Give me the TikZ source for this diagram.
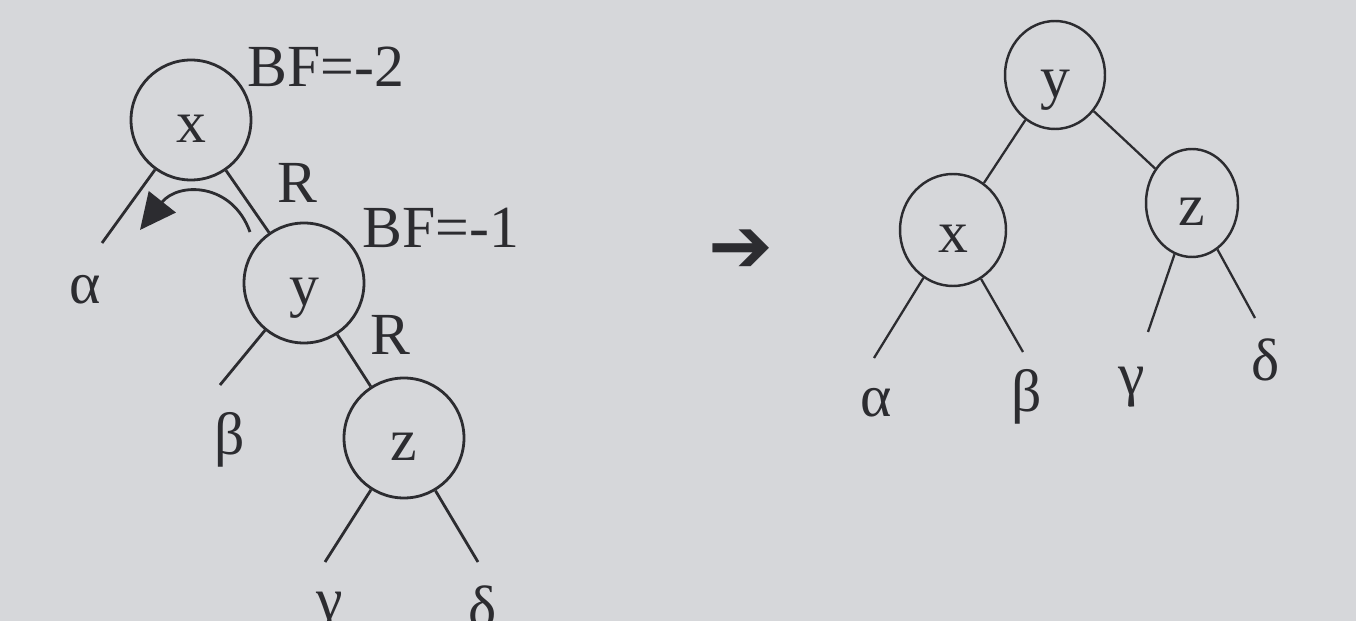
\documentclass[tikz,border=0pt]{standalone}
\usepackage{fontspec}
\setmainfont{Liberation Serif}
\newfontfamily\arrowfont{DejaVu Sans}
\usetikzlibrary{arrows.meta,shapes.geometric}
\definecolor{paper}{RGB}{214,215,218}
\definecolor{ink}{RGB}{44,44,48}

\begin{document}
\begin{tikzpicture}[node distance=3.1cm,
  every node/.style={text=ink,font=\fontsize{34}{40}\selectfont},
  knot/.style={circle,draw=ink,line width=1.6pt,minimum size=2.4cm,inner sep=0pt,text height=0.9cm,text depth=0cm},
  oval/.style={ellipse,draw=ink,line width=1.4pt,minimum width=2cm,minimum height=2.16cm,inner sep=0pt,text height=0.9cm,text depth=0cm},
  stem/.style={draw=ink,line width=1.6pt},
  thin stem/.style={draw=ink,line width=1.3pt}]
  \fill[paper] (0,0) rectangle (27.12,-12.42);
  \useasboundingbox (0,0) rectangle (27.12,-12.42);

  % before the rotation
  \node [knot] (x1) at (3.82,-2.40) {x};
  \node [knot,below of=x1,xshift=2.26cm,yshift=-0.16cm] (y1) {y};
  \node [knot,below of=y1,xshift=2cm] (z1) {z};
  \node (bf1) at (6.52,-1.34) {BF=-2};
  \node (bf2) at (8.82,-4.56) {BF=-1};
  \node (r1) at (5.94,-3.66) {R};
  \node (r2) at (7.80,-6.70) {R};

  \coordinate (ea1) at (2.04,-4.86);
  \coordinate (eb1) at (4.40,-7.70);
  \coordinate (ec1) at (6.50,-11.24);
  \coordinate (ed1) at (9.56,-11.24);
  \node (a1) at (1.70,-5.80) {α};
  \node (b1) at (4.60,-8.80) {β};
  \node (c1) at (6.60,-12.24) {γ};
  \node (d1) at (9.66,-12.14) {δ};

  \path[stem] (x1) edge (y1);
  \path[stem] (y1) edge (z1);
  \path[stem] (x1) edge (ea1);
  \path[stem] (y1) edge (eb1);
  \path[stem] (z1) edge (ec1);
  \path[stem] (z1) edge (ed1);

  \coordinate (rs) at (5.00,-4.64);
  \coordinate (re) at (2.80,-4.60);
  \draw[stem,-{Triangle[length=0.72cm,width=0.68cm]}] (rs) .. controls (4.64,-3.64) and (3.56,-3.64) .. (re);

  \node (arr) at (14.82,-5.02) {\arrowfont\fontsize{44}{50}\selectfont ➔};

  % after the rotation
  \node [oval] (y2) at (21.10,-1.50) {y};
  \node [oval,minimum width=2.12cm,minimum height=2.24cm,below of=y2,xshift=-2.04cm] (x2) {x};
  \node [oval,minimum width=1.84cm,below of=y2,xshift=2.74cm,yshift=0.54cm] (z2) {z};

  \coordinate (ea2) at (17.48,-7.16);
  \coordinate (eb2) at (20.46,-7.04);
  \coordinate (ec2) at (22.96,-6.64);
  \coordinate (ed2) at (25.10,-6.36);
  \node (a2) at (17.52,-8.06) {α};
  \node (b2) at (20.54,-7.94) {β};
  \node (c2) at (22.64,-7.74) {γ};
  \node (d2) at (25.32,-7.20) {δ};

  \path[thin stem] (y2) edge (x2);
  \path[thin stem] (y2) edge (z2);
  \path[thin stem] (x2) edge (ea2);
  \path[thin stem] (x2) edge (eb2);
  \path[thin stem] (z2) edge (ec2);
  \path[thin stem] (z2) edge (ed2);
\end{tikzpicture}
\end{document}
